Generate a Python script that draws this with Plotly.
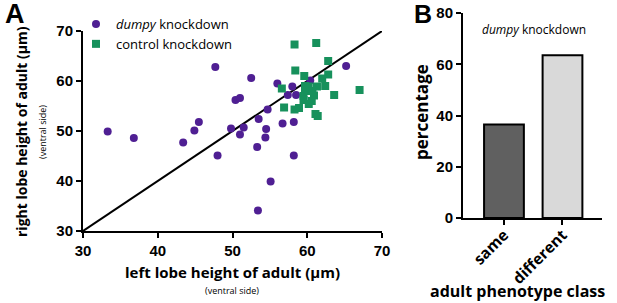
import plotly.graph_objects as go

# ---- Panel A data ----
dumpy_left = [33.3, 36.8, 43.4, 44.9, 45.5, 47.7, 48.0, 49.8, 50.4, 51.0, 51.0, 51.5, 52.5, 53.3, 53.4,
               53.5, 54.4, 54.5, 54.7, 55.1, 56.0, 56.7, 57.4, 58.0, 58.2, 58.2, 58.5, 60.4, 65.2]
dumpy_right = [49.9, 48.6, 47.7, 50.1, 51.8, 62.8, 45.1, 50.5, 56.2, 56.6, 49.3, 50.7, 60.6, 46.8, 34.1,
               52.4, 48.7, 50.4, 54.3, 39.9, 59.5, 51.5, 57.2, 58.9, 51.8, 45.1, 57.2, 60.1, 63.0]
control_left = [58.3, 61.2, 62.8, 58.4, 59.6, 62.8, 62.0, 56.6, 59.7, 60.2, 61.3, 62.4, 59.7, 60.7,
                63.6, 59.5, 60.9, 59.5, 60.6, 67.0, 56.9, 58.3, 58.9, 61.1, 61.4, 60.2]
control_right = [67.3, 67.6, 64.0, 62.1, 61.0, 61.3, 60.5, 58.5, 59.0, 58.9, 58.9, 59.0, 58.0, 58.0,
                 57.2, 57.0, 57.1, 56.2, 56.0, 58.2, 54.7, 54.3, 54.6, 53.4, 53.0, 55.4]
identity_x = [30, 70]
identity_y = [30, 70]
a_ticks = [30, 40, 50, 60, 70]

# ---- Panel B data ----
classes = ["same", "different"]
percentages = [36.5, 63.5]
bar_colors = ["#606060", "#d9d9d9"]
b_ticks = [0, 20, 40, 60, 80]

PURPLE = "#4f1f93"
GREEN = "#17915c"
W, H = 617, 303
TF = "Open Sans"
NF = "Liberation Sans"

def px(x):
    return x / W

def py(y):
    return 1 - y / H

fig = go.Figure()
fig.add_trace(go.Scatter(x=identity_x, y=identity_y, mode="lines", line=dict(color="black", width=2),
                         showlegend=False, xaxis="x", yaxis="y", hoverinfo="skip"))
fig.add_trace(go.Scatter(x=dumpy_left, y=dumpy_right, mode="markers", name="<i>dumpy</i> knockdown",
                         marker=dict(color=PURPLE, size=8, symbol="circle"), xaxis="x", yaxis="y"))
fig.add_trace(go.Scatter(x=control_left, y=control_right, mode="markers", name="control knockdown",
                         marker=dict(color=GREEN, size=8, symbol="square"), xaxis="x", yaxis="y"))
fig.add_trace(go.Bar(x=classes, y=percentages, marker=dict(color=bar_colors, line=dict(color="black", width=2)),
                     width=0.68, showlegend=False, xaxis="x2", yaxis="y2"))

axis_common = dict(showline=True, linecolor="black", linewidth=2, ticks="outside", ticklen=5, tickwidth=2,
                   tickcolor="black", showgrid=False, zeroline=False, automargin=False,
                   tickfont=dict(family=NF, size=15, color="black", weight="bold"))

fig.update_layout(
    template="none",
    width=W, height=H, margin=dict(l=0, r=0, t=0, b=0, pad=0), autosize=False,
    plot_bgcolor="white", paper_bgcolor="white",
    xaxis=dict(domain=[px(83), px(382)], range=[30, 70], tickvals=a_ticks, anchor="y", **axis_common),
    yaxis=dict(domain=[py(231), py(31)], range=[30, 70], tickvals=a_ticks, anchor="x", **axis_common),
    xaxis2=dict(domain=[px(463), px(602)], range=[-0.70, 1.675], anchor="y2", tickangle=-45,
                ticklabelstandoff=-5,
                **{**axis_common, "tickfont": dict(family=TF, size=15.5, color="black", weight="bold")}),
    yaxis2=dict(domain=[py(218), py(13)], range=[0, 80], tickvals=b_ticks, anchor="x2", **axis_common),
    legend=dict(x=px(76), y=py(9), xanchor="left", yanchor="top", bgcolor="rgba(0,0,0,0)",
                font=dict(family=TF, size=13, color="black"), tracegroupgap=0, itemwidth=30),
    showlegend=True,
)

annots = [
    dict(text="A", x=px(3), y=py(14), xanchor="left", yanchor="middle", font=dict(family=NF, size=27, weight="bold")),
    dict(text="B", x=px(412), y=py(14), xanchor="left", yanchor="middle", font=dict(family=NF, size=25, weight="bold")),
    dict(text="left lobe height of adult (μm)", x=px(232), y=py(272), xanchor="center", yanchor="middle",
         font=dict(family=TF, size=15, weight="bold")),
    dict(text="(ventral side)", x=px(232), y=py(290), xanchor="center", yanchor="middle",
         font=dict(family=TF, size=9)),
    dict(text="right lobe height of adult (μm)", x=px(22), y=py(132), xanchor="center", yanchor="middle",
         textangle=-90, font=dict(family=TF, size=14, weight="bold")),
    dict(text="(ventral side)", x=px(43), y=py(132), xanchor="center", yanchor="middle",
         textangle=-90, font=dict(family=TF, size=9)),
    dict(text="<i>dumpy</i> knockdown", x=px(534), y=py(29), xanchor="center", yanchor="middle",
         font=dict(family=TF, size=12)),
    dict(text="percentage", x=px(421), y=py(112), xanchor="center", yanchor="middle",
         textangle=-90, font=dict(family=TF, size=17, weight="bold")),
    dict(text="adult phenotype class", x=px(517), y=py(291), xanchor="center", yanchor="middle",
         font=dict(family=TF, size=16, weight="bold")),
]
for a in annots:
    a.update(xref="paper", yref="paper", showarrow=False)
    a["font"].setdefault("color", "black")
fig.update_layout(annotations=annots)

fig.write_html("out.html", config={"displayModeBar": False},
               post_script="document.body.style.margin='0';document.body.style.overflow='hidden';")
